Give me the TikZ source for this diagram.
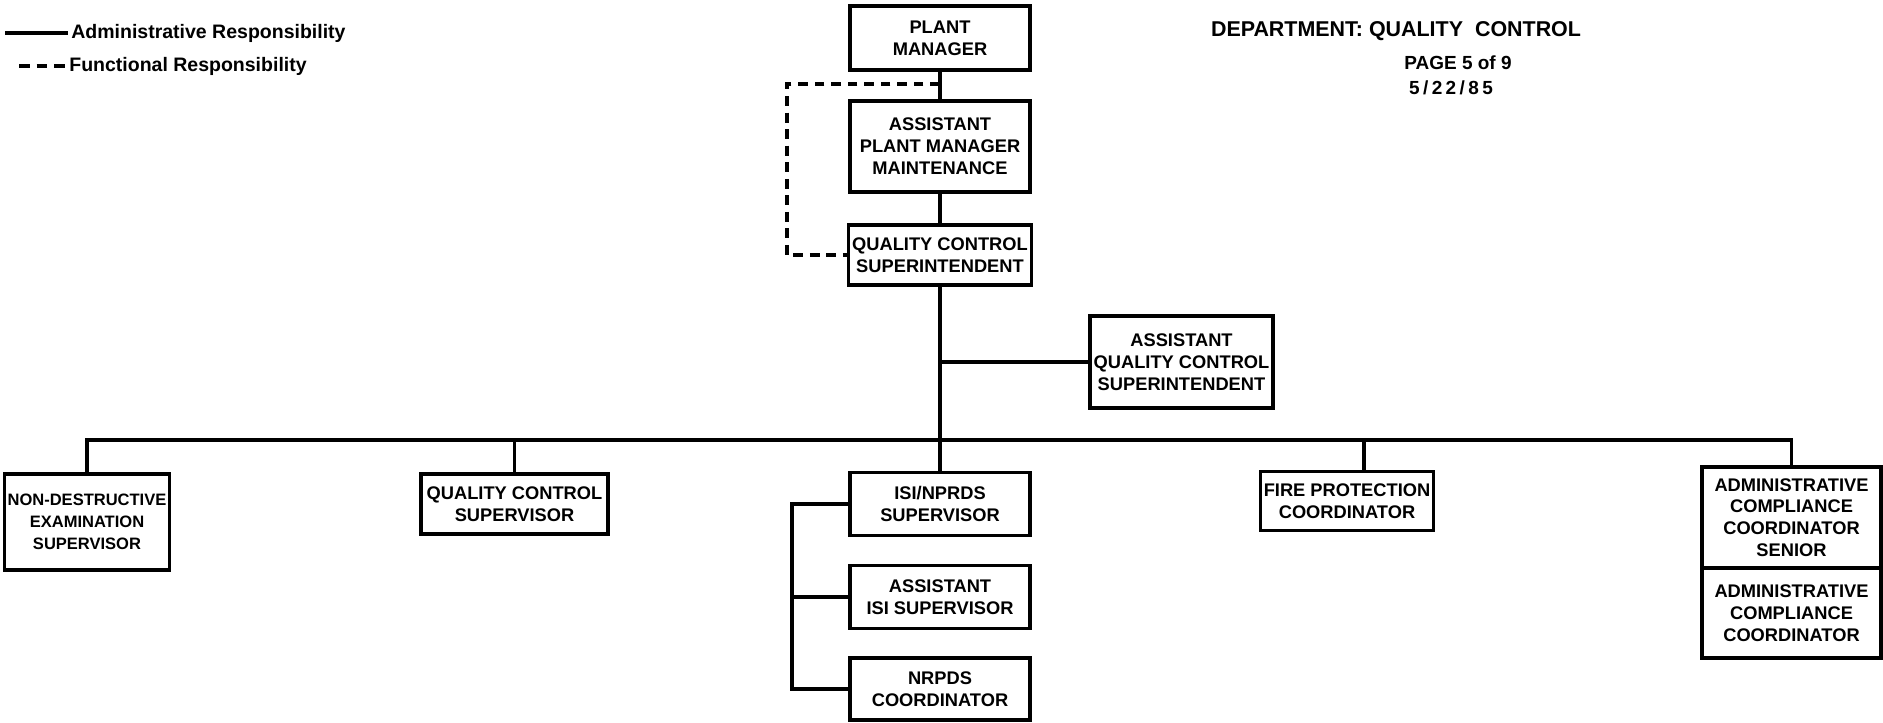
\documentclass[tikz,border=0pt]{standalone}
\usepackage{fontspec}
\setmainfont{Liberation Sans}
\usepackage{tikz}

\begin{document}
\begin{tikzpicture}[
    line width = 0.9pt,
    post/.style = {draw, rectangle,
      align = center, inner sep = 1pt,
      font = \fontsize{5.2}{6.2}\selectfont\bfseries,
      minimum width = {1.8cm}},
    legend/.style = {inner sep = 0.5pt, anchor = west,
      font = \fontsize{5.55}{7}\selectfont\bfseries},
    heading/.style = {inner sep = 0pt,
      font = \fontsize{5.4}{6.5}\selectfont\bfseries},
    functional/.style = {dash pattern = on 2.8pt off 1.9pt},
    ]

    \useasboundingbox (0, 0) rectangle (18.83, 7.22);

    % legend and page heading
    \node at (0.68, 6.89) [legend, name = leg_admin] {Administrative Responsibility};
    \node at (0.66, 6.56) [legend, name = leg_func] {Functional Responsibility};
    \coordinate (leg_admin_end) at (0.05, 6.89);
    \coordinate (leg_func_end) at (0.19, 6.56);
    \draw (leg_admin_end) -- (leg_admin);
    \draw [dash pattern = on 3pt off 2pt] (leg_func_end) -- (leg_func);

    \node at (13.96, 6.91) [heading, font = \fontsize{6.1}{7}\selectfont\bfseries,
      name = dept] {DEPARTMENT: QUALITY\ \ CONTROL};
    \node at (14.58, 6.59) [heading, name = page] {PAGE 5 of 9};
    \node at (14.51, 6.34) [heading, name = date]
    {\addfontfeature{LetterSpace = 18}5/22/85};

    % upper chain
    \node at (9.40, 6.84)
    [post, minimum height = {0.64cm}, name = PM] {PLANT\\MANAGER};
    \node at (9.40, 5.755)
    [post, minimum height = {0.91cm}, name = APM] {ASSISTANT\\PLANT MANAGER\\MAINTENANCE};
    \node at (9.40, 4.67)
    [post, minimum width = {1.82cm}, minimum height = {0.60cm}, name = QCS]
    {QUALITY CONTROL\\SUPERINTENDENT};
    \node at (11.815, 3.60)
    [post, minimum width = {1.83cm}, minimum height = {0.92cm}, name = AQCS]
    {ASSISTANT\\QUALITY CONTROL\\SUPERINTENDENT};

    % lower row
    \node at (0.87, 2.00)
    [post, minimum width = {1.58cm}, minimum height = {0.96cm},
      font = \fontsize{4.7}{6.2}\selectfont\bfseries, name = NDE]
    {NON-DESTRUCTIVE\\EXAMINATION\\SUPERVISOR};
    \node at (5.145, 2.18)
    [post, minimum width = {1.87cm}, minimum height = {0.60cm}, name = QCSup]
    {QUALITY CONTROL\\SUPERVISOR};
    \node at (9.40, 2.18)
    [post, minimum height = {0.63cm}, name = ISI] {ISI/NPRDS\\SUPERVISOR};
    \node at (9.40, 1.25)
    [post, minimum height = {0.63cm}, name = AISI] {ASSISTANT\\ISI SUPERVISOR};
    \node at (9.40, 0.33)
    [post, minimum height = {0.62cm}, name = NRPDS] {NRPDS\\COORDINATOR};
    \node at (13.47, 2.21)
    [post, minimum width = {1.52cm}, minimum height = {0.59cm}, name = Fire]
    {FIRE PROTECTION\\COORDINATOR};
    \node at (17.915, 2.045)
    [post, minimum width = {1.79cm}, minimum height = {1.01cm}, name = ACCS]
    {ADMINISTRATIVE\\COMPLIANCE\\COORDINATOR\\SENIOR};
    \node at (17.915, 1.09)
    [post, minimum width = {1.79cm}, minimum height = {0.90cm}, name = ACC]
    {ADMINISTRATIVE\\COMPLIANCE\\COORDINATOR};

    \coordinate (bus) at (0, 2.82);
    \coordinate (fire_drop) at (13.64, 2.82);
    \coordinate (isi_rail) at (7.92, 0);
    \coordinate (func_top) at (9.40, 6.38);
    \coordinate (func_left) at (7.87, 0);

    \draw (PM) -- (APM);
    \draw (APM) -- (QCS);
    \draw (QCS) -- (ISI);
    \draw (AQCS.west) -- (AQCS.west -| QCS.south);

    \draw (NDE.north) |- (ACCS.north |- bus) -- (ACCS.north);
    \draw (QCSup.north) -- (QCSup.north |- bus);
    \draw (fire_drop) -- (fire_drop |- Fire.north);

    \draw (ISI.west) -- (ISI.west -| isi_rail)
    -- (NRPDS.west -| isi_rail) -- (NRPDS.west);
    \draw (AISI.west) -- (AISI.west -| isi_rail);

    \draw [functional] (func_top) -- (func_top -| func_left)
    -- (QCS.west -| func_left) -- (QCS.west);
  \end{tikzpicture}
\end{document}
